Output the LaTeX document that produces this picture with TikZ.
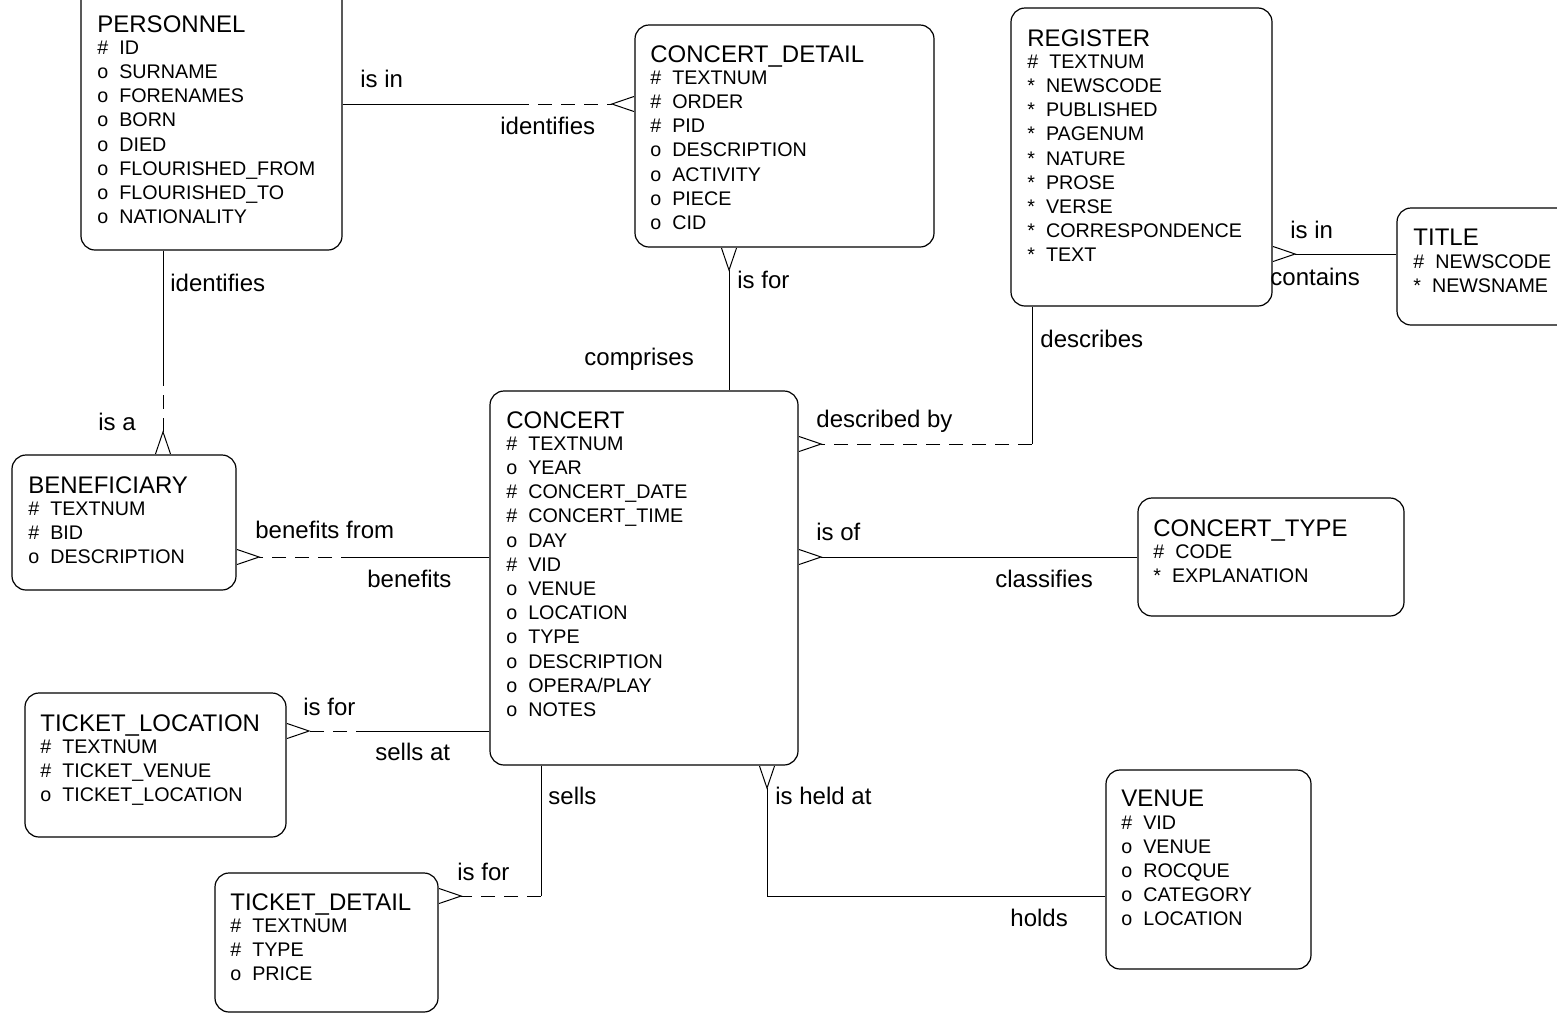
\documentclass[tikz,border=0pt]{standalone}
\usepackage{fontspec}
\setmainfont{Liberation Sans}
\usetikzlibrary{arrows.meta,calc,fit,positioning}
\newcommand{\etitle}[1]{{\fontsize{12}{12}\selectfont #1}}
\newcommand{\pk}[1]{\#\hspace{.556em}#1}
\newcommand{\opt}[1]{o\hspace{.556em}#1}
\newcommand{\mand}[1]{*\hspace{.556em}#1}

\begin{document}
\begin{tikzpicture}[x=0.5pt,y=-0.5pt]
\tikzset{ENTITY/.style={draw,rounded corners=7pt,inner sep=0pt,line width=0.6pt}}
\tikzset{ETEXT/.style={anchor=north west,align=left,inner sep=0pt,font=\fontsize{9.85}{12.1}\selectfont}}
\tikzset{REL/.style={draw,line width=0.5pt}}
\tikzset{OPTIONAL/.style={REL,dash pattern=on 7pt off 4.5pt}}
\tikzset{MANY/.style={-{Straight Barb[reversed,length=11pt,width=7.5pt]}}}
\tikzset{MANYSTART/.style={{Straight Barb[reversed,length=11pt,width=7.5pt]}-}}
\tikzset{LABEL/.style={anchor=base west,inner sep=0pt,font=\fontsize{12}{14}\selectfont}}

\useasboundingbox (0,0) rectangle (1557,1013);

% entities
\node[ENTITY,fit={(81,-20) (342,250)}] (personnel) {};
\node[ETEXT] (personnel text) at (97,15) {\etitle{PERSONNEL}\\[-1pt]\pk{ID}\\\opt{SURNAME}\\\opt{FORENAMES}\\\opt{BORN}\\\opt{DIED}\\\opt{FLOURISHED\_FROM}\\\opt{FLOURISHED\_TO}\\\opt{NATIONALITY}};

\node[ENTITY,fit={(635,25) (934,247)}] (cdetail) {};
\node[ETEXT] (cdetail text) at (650,45) {\etitle{CONCERT\_DETAIL}\\[-1pt]\pk{TEXTNUM}\\\pk{ORDER}\\\pk{PID}\\\opt{DESCRIPTION}\\\opt{ACTIVITY}\\\opt{PIECE}\\\opt{CID}};

\node[ENTITY,fit={(1011,8) (1272,306)}] (register) {};
\node[ETEXT] (register text) at (1027,29) {\etitle{REGISTER}\\[-1pt]\pk{TEXTNUM}\\\mand{NEWSCODE}\\\mand{PUBLISHED}\\\mand{PAGENUM}\\\mand{NATURE}\\\mand{PROSE}\\\mand{VERSE}\\\mand{CORRESPONDENCE}\\\mand{TEXT}};

\node[ENTITY,fit={(1397,208) (1620,325)}] (title) {};
\node[ETEXT] (title text) at (1413,229) {\etitle{TITLE}\\[-1pt]\pk{NEWSCODE}\\\mand{NEWSNAME}};

\node[ENTITY,fit={(12,455) (236,590)}] (benef) {};
\node[ETEXT] (benef text) at (28,476) {\etitle{BENEFICIARY}\\[-1pt]\pk{TEXTNUM}\\\pk{BID}\\\opt{DESCRIPTION}};

\node[ENTITY,fit={(490,391) (798,765)}] (concert) {};
\node[ETEXT] (concert text) at (506,411) {\etitle{CONCERT}\\[-1pt]\pk{TEXTNUM}\\\opt{YEAR}\\\pk{CONCERT\_DATE}\\\pk{CONCERT\_TIME}\\\opt{DAY}\\\pk{VID}\\\opt{VENUE}\\\opt{LOCATION}\\\opt{TYPE}\\\opt{DESCRIPTION}\\\opt{OPERA/PLAY}\\\opt{NOTES}};

\node[ENTITY,fit={(1138,498) (1404,616)}] (ctype) {};
\node[ETEXT] (ctype text) at (1153,519) {\etitle{CONCERT\_TYPE}\\[-1pt]\pk{CODE}\\\mand{EXPLANATION}};

\node[ENTITY,fit={(25,693) (286,837)}] (tloc) {};
\node[ETEXT] (tloc text) at (40,714) {\etitle{TICKET\_LOCATION}\\[-1pt]\pk{TEXTNUM}\\\pk{TICKET\_VENUE}\\\opt{TICKET\_LOCATION}};

\node[ENTITY,fit={(215,873) (438,1012)}] (tdetail) {};
\node[ETEXT] (tdetail text) at (230,893) {\etitle{TICKET\_DETAIL}\\[-1pt]\pk{TEXTNUM}\\\pk{TYPE}\\\opt{PRICE}};

\node[ENTITY,fit={(1106,770) (1311,969)}] (venue) {};
\node[ETEXT] (venue text) at (1121,790) {\etitle{VENUE}\\[-1pt]\pk{VID}\\\opt{VENUE}\\\opt{ROCQUE}\\\opt{CATEGORY}\\\opt{LOCATION}};

% relationships
\coordinate (isin split) at (515,104);
\path[REL] (personnel.east |- isin split) -- (isin split);
\path[OPTIONAL,MANY] (isin split) -- (cdetail.west |- isin split);

\coordinate (isa split) at (163,372);
\path[REL] (personnel.south -| isa split) -- (isa split);
\path[OPTIONAL,MANY] (isa split) -- (benef.north -| isa split);

\coordinate (comprises x) at (729,300);
\path[REL,MANYSTART] (cdetail.south -| comprises x) -- (concert.north -| comprises x);

\coordinate (describes corner) at (1032,444);
\path[REL] (register.south -| describes corner) -- (describes corner);
\path[OPTIONAL,MANY] (describes corner) -- (concert.east |- describes corner);

\coordinate (contains y) at (1330,254);
\path[REL,MANY] (title.west |- contains y) -- (register.east |- contains y);

\coordinate (benefits split) at (355,557);
\path[REL] (concert.west |- benefits split) -- (benefits split);
\path[OPTIONAL,MANY] (benefits split) -- (benef.east |- benefits split);

\coordinate (classifies y) at (950,557);
\path[REL,MANY] (ctype.west |- classifies y) -- (concert.east |- classifies y);

\coordinate (sellsat split) at (370,731);
\path[REL] (concert.west |- sellsat split) -- (sellsat split);
\path[OPTIONAL,MANY] (sellsat split) -- (tloc.east |- sellsat split);

\coordinate (sells corner) at (541,896);
\path[REL] (concert.south -| sells corner) -- (sells corner);
\path[OPTIONAL,MANY] (sells corner) -- (tdetail.east |- sells corner);

\coordinate (holds corner) at (767,896);
\path[REL,MANY] (venue.west |- holds corner) -- (holds corner) -- (concert.south -| holds corner);

% relationship names
\node[LABEL] (l isin) at (360,87) {is in};
\node[LABEL] (l identifies cd) at (500,134) {identifies};
\node[LABEL] (l identifies b) at (170,291) {identifies};
\node[LABEL] (l isa) at (98,430) {is a};
\node[LABEL] (l isfor cd) at (737,288) {is for};
\node[LABEL] (l comprises) at (584,365) {comprises};
\node[LABEL] (l describes) at (1040,347) {describes};
\node[LABEL] (l describedby) at (816,427) {described by};
\node[LABEL] (l isin t) at (1290,238) {is in};
\node[LABEL] (l contains) at (1270,285) {contains};
\node[LABEL] (l benefitsfrom) at (255,538) {benefits from};
\node[LABEL] (l benefits) at (367,587) {benefits};
\node[LABEL] (l isof) at (816,540) {is of};
\node[LABEL] (l classifies) at (995,587) {classifies};
\node[LABEL] (l isfor tl) at (303,715) {is for};
\node[LABEL] (l sellsat) at (375,760) {sells at};
\node[LABEL] (l sells) at (548,804) {sells};
\node[LABEL] (l isfor td) at (457,880) {is for};
\node[LABEL] (l isheldat) at (775,804) {is held at};
\node[LABEL] (l holds) at (1010,926) {holds};
\end{tikzpicture}
\end{document}
